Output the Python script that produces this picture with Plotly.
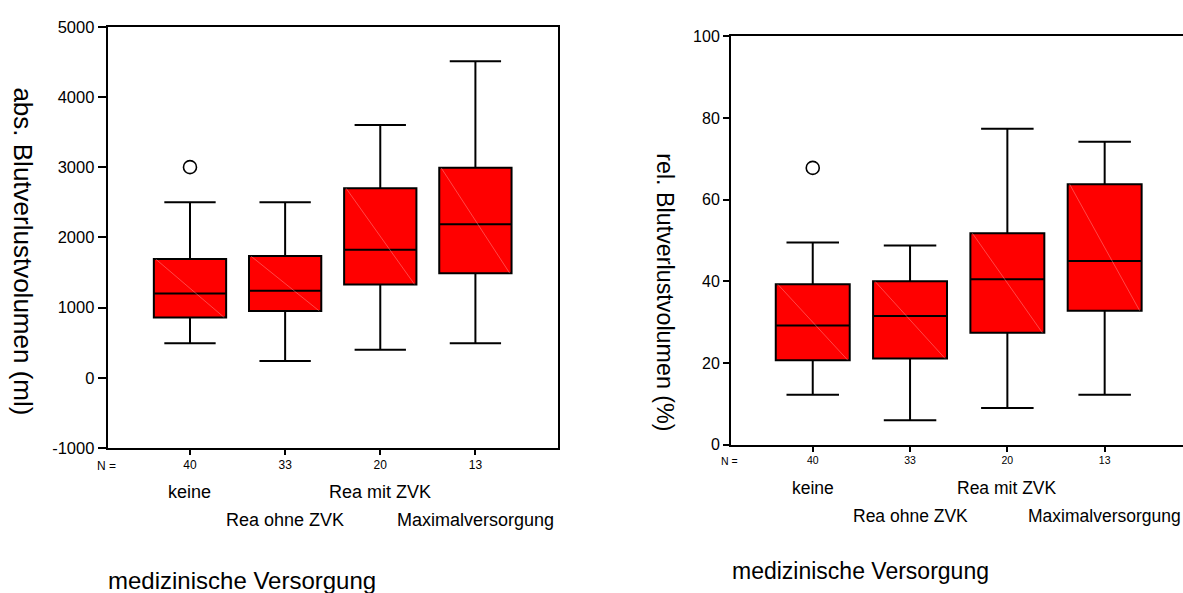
import plotly.graph_objects as go

# ---------------- data ----------------
categories = ["keine", "Rea ohne ZVK", "Rea mit ZVK", "Maximalversorgung"]
n_counts = ["40", "33", "20", "13"]

# absolute blood loss (ml)
abs_lower = [490, 240, 400, 490]
abs_q1 = [858, 950, 1330, 1490]
abs_median = [1200, 1240, 1825, 2185]
abs_q3 = [1690, 1733, 2700, 2990]
abs_upper = [2500, 2500, 3600, 4510]
abs_outlier_cat = [0]
abs_outlier_val = [3000]

# relative blood loss (%)
rel_lower = [12.2, 6.0, 9.0, 12.2]
rel_q1 = [20.7, 21.1, 27.4, 32.8]
rel_median = [29.2, 31.5, 40.5, 45.0]
rel_q3 = [39.3, 40.0, 51.8, 63.8]
rel_upper = [49.5, 48.8, 77.4, 74.2]
rel_outlier_cat = [0]
rel_outlier_val = [67.8]

abs_yticks = [-1000, 0, 1000, 2000, 3000, 4000, 5000]
rel_yticks = [0, 20, 40, 60, 80, 100]

x_title = "medizinische Versorgung"
abs_y_title = "abs. Blutverlustvolumen (ml)"
rel_y_title = "rel. Blutverlustvolumen (%)"

# ---------------- figure ----------------
W, H = 1183, 593
FONT = "Liberation Sans, Arial, sans-serif"
BOXW = 0.76
xs = list(range(len(categories)))

fig = go.Figure()


def add_boxes(xaxis, yaxis, lo, q1, med, q3, hi, oc, ov, msize):
    fig.add_trace(go.Box(
        x=xs, q1=q1, median=med, q3=q3, lowerfence=lo, upperfence=hi,
        width=BOXW, whiskerwidth=0.71, fillcolor="#ff0000",
        line=dict(color="black", width=2), boxpoints=False,
        xaxis=xaxis, yaxis=yaxis, showlegend=False, hoverinfo="skip"))
    # faint diagonal rendering artefact across each box
    for i in xs:
        fig.add_trace(go.Scatter(
            x=[i - BOXW / 2 + 0.02, i + BOXW / 2 - 0.02], y=[q3[i], q1[i]],
            mode="lines", line=dict(color="rgba(255,170,170,0.7)", width=0.6),
            xaxis=xaxis, yaxis=yaxis, showlegend=False, hoverinfo="skip"))
    fig.add_trace(go.Scatter(
        x=oc, y=ov, mode="markers",
        marker=dict(symbol="circle-open", size=msize, color="black",
                    line=dict(width=1.6, color="black")),
        xaxis=xaxis, yaxis=yaxis, showlegend=False, hoverinfo="skip"))


add_boxes("x", "y", abs_lower, abs_q1, abs_median, abs_q3, abs_upper,
          abs_outlier_cat, abs_outlier_val, 13)
add_boxes("x2", "y2", rel_lower, rel_q1, rel_median, rel_q3, rel_upper,
          rel_outlier_cat, rel_outlier_val, 13)


def px(x):
    return x / W


def py(y):
    return 1 - y / H


common_ax = dict(showgrid=False, zeroline=False, linecolor="black", linewidth=2,
                 ticks="outside", tickcolor="black", tickwidth=1.5,
                 fixedrange=True)

fig.update_layout(
    width=W, height=H, margin=dict(l=0, r=0, t=0, b=0),
    paper_bgcolor="white", plot_bgcolor="white",
    font=dict(family=FONT, color="black"),
    xaxis=dict(common_ax, domain=[px(107.7), px(557.7)], range=[-0.865, 3.865],
               tickvals=xs, ticktext=n_counts, ticklen=5, mirror=True,
               tickfont=dict(size=12), anchor="y"),
    yaxis=dict(common_ax, domain=[py(452.7), py(18.3)], range=[-1000, 5000],
               tickvals=abs_yticks, ticktext=[str(v) for v in abs_yticks],
               ticklen=8, mirror=True,
               tickfont=dict(size=16.5), anchor="x"),
    xaxis2=dict(common_ax, domain=[px(731), 1.0], range=[-0.84, 3.805],
                tickvals=xs, ticktext=n_counts, ticklen=5, mirror=True,
                tickfont=dict(size=10.5), anchor="y2"),
    yaxis2=dict(common_ax, domain=[py(449.3), py(28.3)], range=[0, 100],
                tickvals=rel_yticks, ticktext=[str(v) for v in rel_yticks],
                ticklen=6, mirror=False,
                tickfont=dict(size=16), anchor="x2"),
)

ann = []
# category labels (staggered rows)
for i, c in enumerate(categories):
    ann.append(dict(x=i, xref="x", y=py(498) if i % 2 == 0 else py(527.5),
                    yref="paper", text=c, showarrow=False,
                    font=dict(size=18), xanchor="center", yanchor="middle"))
    ann.append(dict(x=i, xref="x2", y=py(494) if i % 2 == 0 else py(523),
                    yref="paper", text=c, showarrow=False,
                    font=dict(size=17.5), xanchor="center", yanchor="middle"))
# N = labels
ann.append(dict(x=px(106.7), y=py(471.5), xref="paper", yref="paper", text="N =",
                showarrow=False, font=dict(size=12), xanchor="center", yanchor="middle"))
ann.append(dict(x=px(729), y=py(466.5), xref="paper", yref="paper", text="N =",
                showarrow=False, font=dict(size=10.5), xanchor="center", yanchor="middle"))
# x titles
ann.append(dict(x=px(106), y=py(589), xref="paper", yref="paper", text=x_title,
                showarrow=False, font=dict(size=24), xanchor="left", yanchor="middle"))
ann.append(dict(x=px(730), y=py(580), xref="paper", yref="paper", text=x_title,
                showarrow=False, font=dict(size=23), xanchor="left", yanchor="middle"))
# y titles (rotated clockwise)
ann.append(dict(x=px(23), y=py(250), xref="paper", yref="paper", text=abs_y_title,
                showarrow=False, font=dict(size=26), textangle=90,
                xanchor="center", yanchor="middle"))
ann.append(dict(x=px(665.4), y=py(292.5), xref="paper", yref="paper", text=rel_y_title,
                showarrow=False, font=dict(size=23.3), textangle=90,
                xanchor="center", yanchor="middle"))

fig.update_layout(annotations=ann)

fig.write_html("out.html", config={"displayModeBar": False})
